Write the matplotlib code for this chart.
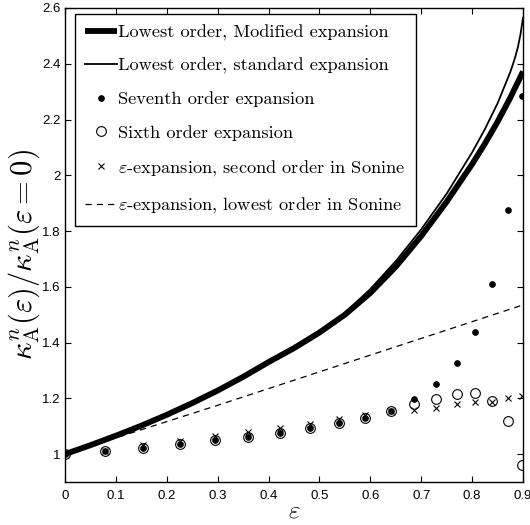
import matplotlib
matplotlib.use('Agg')
import matplotlib.pyplot as plt

# epsilon grid for the two lowest order curves
eps_curve = [0, 0.05, 0.1, 0.15, 0.2, 0.25, 0.3, 0.35, 0.4, 0.45, 0.5, 0.55,
             0.6, 0.65, 0.7, 0.75, 0.8, 0.825, 0.85, 0.875, 0.88, 0.885, 0.89, 0.895, 0.9]
modified = [1.000, 1.032, 1.066, 1.102, 1.141, 1.183, 1.228, 1.277, 1.330, 1.380, 1.436, 1.500,
            1.578, 1.672, 1.782, 1.905, 2.040, 2.113, 2.192, 2.278, 2.297, 2.316, 2.334, 2.353, 2.372]
standard = [1.000, 1.032, 1.066, 1.102, 1.141, 1.183, 1.228, 1.277, 1.330, 1.381, 1.439, 1.506,
            1.592, 1.692, 1.806, 1.934, 2.082, 2.165, 2.258, 2.370, 2.397, 2.426, 2.460, 2.505, 2.565]

# epsilon-expansion, lowest order in Sonine (dashed)
eps_lin = [0, 0.3, 0.6, 0.9]
sonine_low = [1.0, 1.175, 1.355, 1.535]

# discrete points (eps = 1 - alpha^2, alpha = 1, 0.96, ... 0.32)
eps_pts = [0, 0.0784, 0.1536, 0.2256, 0.2944, 0.36, 0.4224, 0.4816, 0.5376,
           0.5904, 0.64, 0.6864, 0.7296, 0.7696, 0.8064, 0.84, 0.8704, 0.8976]
seventh = [1.0, 1.011, 1.023, 1.037, 1.050, 1.062, 1.077, 1.092, 1.110,
           1.131, 1.155, 1.197, 1.251, 1.326, 1.439, 1.610, 1.877, 2.285]
sixth = [1.0, 1.011, 1.023, 1.037, 1.050, 1.062, 1.077, 1.092, 1.110,
         1.131, 1.155, 1.179, 1.199, 1.217, 1.219, 1.190, 1.119, 0.960]
sonine_2nd = [1.0, 1.012, 1.034, 1.047, 1.064, 1.078, 1.092, 1.108, 1.125,
              1.140, 1.155, 1.157, 1.167, 1.181, 1.187, 1.187, 1.200, 1.209]

x_ticks = [0, 0.1, 0.2, 0.3, 0.4, 0.5, 0.6, 0.7, 0.8, 0.9]
x_labels = ['0', '0.1', '0.2', '0.3', '0.4', '0.5', '0.6', '0.7', '0.8', '0.9']
y_ticks = [1.0, 1.2, 1.4, 1.6, 1.8, 2.0, 2.2, 2.4, 2.6]
y_labels = ['1', '1.2', '1.4', '1.6', '1.8', '2', '2.2', '2.4', '2.6']

labels = ['Lowest order, Modified expansion',
          'Lowest order, standard expansion',
          'Seventh order expansion',
          'Sixth order expansion',
          r'$\varepsilon$-expansion, second order in Sonine',
          r'$\varepsilon$-expansion, lowest order in Sonine']

plt.rcParams['font.family'] = ['Liberation Sans', 'DejaVu Sans']
plt.rcParams['mathtext.fontset'] = 'cm'

fig = plt.figure(figsize=(5.3, 5.25), dpi=100)
ax = fig.add_axes([0.1226, 0.0819, 0.8642, 0.9029])

h_mod, = ax.plot(eps_curve, modified, color='k', lw=4.2, solid_capstyle='butt')
h_std, = ax.plot(eps_curve, standard, color='k', lw=1.3)
h_dash, = ax.plot(eps_lin, sonine_low, color='k', lw=0.9, dashes=(5, 4))
h_7, = ax.plot(eps_pts, seventh, 'o', color='k', ms=3.8, ls='none')
h_6, = ax.plot(eps_pts, sixth, 'o', mfc='none', mec='k', ms=7, mew=0.8, ls='none')
h_x, = ax.plot(eps_pts, sonine_2nd, 'x', color='k', ms=4.2, mew=0.8, ls='none')

ax.set_xlim(0, 0.9)
ax.set_ylim(0.9, 2.6)
ax.set_xticks(x_ticks)
ax.set_xticklabels(x_labels)
ax.set_yticks(y_ticks)
ax.set_yticklabels(y_labels)
ax.tick_params(direction='in', top=True, right=True, length=4, width=0.8,
               labelsize=9.5)
ax.tick_params(axis='x', pad=6)
ax.tick_params(axis='y', pad=3)
for sp in ax.spines.values():
    sp.set_linewidth(1.0)

ax.set_xlabel(r'$\varepsilon$', fontsize=18, labelpad=-3)
ax.set_ylabel(r'$\kappa^n_{\rm A}(\varepsilon)/\kappa^n_{\rm A}(\varepsilon=0)$',
              fontsize=22, labelpad=1)
ax.yaxis.set_label_coords(-0.05, 0.48)

leg = ax.legend([h_mod, h_std, h_7, h_6, h_x, h_dash], labels,
                loc='upper left', bbox_to_anchor=(0.022, 0.987),
                prop={'family': 'cmr10', 'size': 13.2},
                fancybox=False, framealpha=1, edgecolor='k',
                handlelength=1.75, handletextpad=0.05, labelspacing=0.95,
                borderpad=0.55, borderaxespad=0)
leg.get_frame().set_linewidth(1.0)

fig.savefig('out.png', dpi=100)
